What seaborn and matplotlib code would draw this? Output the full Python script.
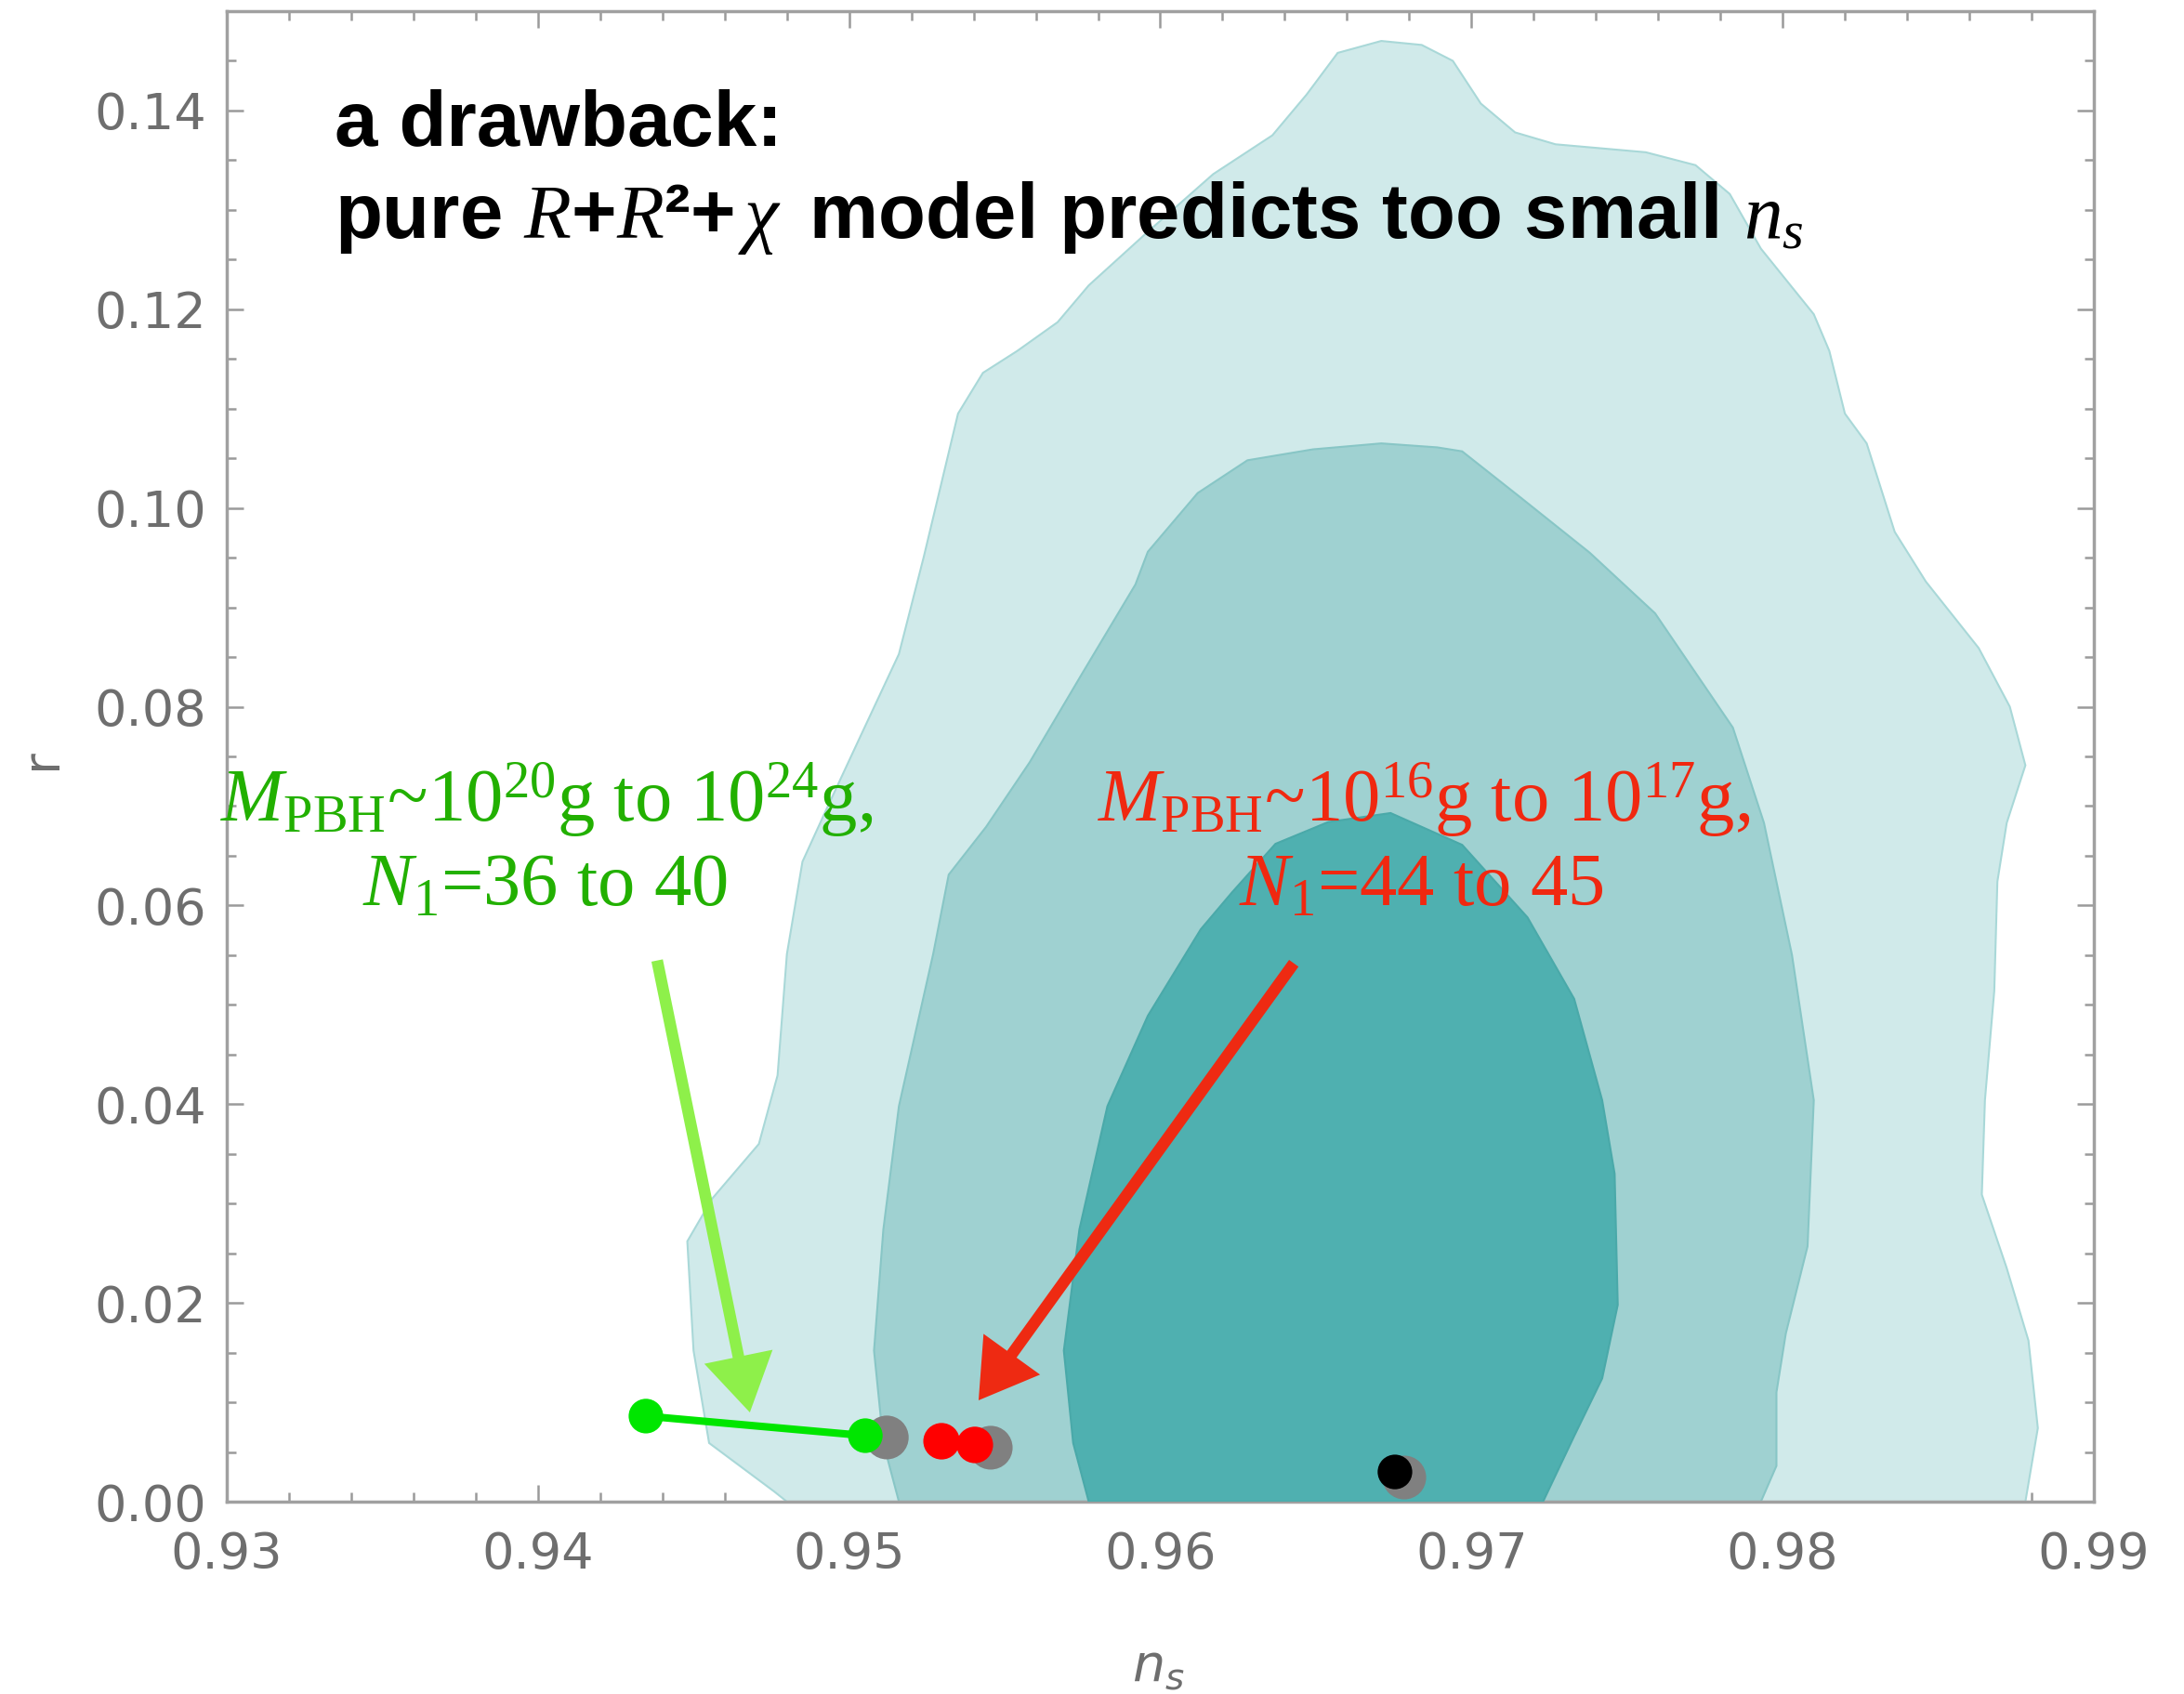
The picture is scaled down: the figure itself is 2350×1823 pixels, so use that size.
import numpy as np
import pandas as pd
import matplotlib
matplotlib.use("Agg")
import matplotlib.pyplot as plt
import seaborn as sns
from matplotlib.ticker import MultipleLocator, FormatStrFormatter

# ---------------- data ----------------
# outer contour boundary
outer_ns = [0.9480, 0.9476, 0.9455, 0.9450, 0.9448, 0.9456, 0.9471, 0.9477, 0.9480, 0.9485,
            0.9492, 0.9503, 0.9516, 0.9524, 0.9535, 0.9543, 0.9554, 0.9567, 0.9577, 0.9596,
            0.9617, 0.9636, 0.9647, 0.9657, 0.9671, 0.9684, 0.9694, 0.9703, 0.9714, 0.9727,
            0.9756, 0.9772, 0.9783, 0.9793, 0.9810, 0.9815, 0.9820, 0.9827, 0.9836, 0.9846,
            0.9863, 0.9873, 0.9878, 0.9872, 0.9869, 0.9868, 0.9865, 0.9864, 0.9872, 0.9879,
            0.9882, 0.9878]
outer_r = [0.0, 0.0010, 0.0059, 0.0152, 0.0262, 0.0305, 0.0360, 0.0429, 0.0551, 0.0644,
           0.0692, 0.0766, 0.0853, 0.0951, 0.1095, 0.1136, 0.1158, 0.1187, 0.1224, 0.1278,
           0.1336, 0.1375, 0.1416, 0.1458, 0.1470, 0.1466, 0.1450, 0.1407, 0.1378, 0.1366,
           0.1358, 0.1345, 0.1316, 0.1261, 0.1195, 0.1158, 0.1095, 0.1065, 0.0976, 0.0926,
           0.0859, 0.0800, 0.0741, 0.0683, 0.0624, 0.0514, 0.0404, 0.0309, 0.0235, 0.0162,
           0.0074, 0.0]

# middle contour boundary
mid_ns = [0.9516, 0.9511, 0.9508, 0.9511, 0.9516, 0.9527, 0.9532, 0.9544, 0.9558, 0.9575,
          0.9592, 0.9596, 0.9612, 0.9628, 0.9649, 0.9671, 0.9689, 0.9697, 0.9716, 0.9738,
          0.9759, 0.9784, 0.9794, 0.9803, 0.9810, 0.9808, 0.9801, 0.9798, 0.9798, 0.9793]
mid_r = [0.0, 0.0059, 0.0152, 0.0274, 0.0398, 0.0551, 0.0631, 0.0679, 0.0744, 0.0834,
         0.0923, 0.0956, 0.1015, 0.1048, 0.1059, 0.1065, 0.1061, 0.1057, 0.1010, 0.0955,
         0.0894, 0.0779, 0.0683, 0.0550, 0.0404, 0.0257, 0.0169, 0.0110, 0.0036, 0.0]

# inner contour boundary
inner_ns = [0.9577, 0.9572, 0.9569, 0.9574, 0.9583, 0.9596, 0.9613, 0.9623, 0.9637, 0.9654,
            0.9674, 0.9697, 0.9718, 0.9733, 0.9742, 0.9746, 0.9747, 0.9742, 0.9733, 0.9723]
inner_r = [0.0, 0.0059, 0.0152, 0.0274, 0.0398, 0.0489, 0.0576, 0.0613, 0.0662, 0.0684,
           0.0693, 0.0661, 0.0588, 0.0506, 0.0404, 0.0330, 0.0198, 0.0124, 0.0066, 0.0]

# model predictions
green_ns = [0.94347, 0.95052]
green_r = [0.00861, 0.00664]
gray_ns = [0.95121, 0.95455, 0.96784]
gray_r = [0.00646, 0.00543, 0.00243]
red_ns = [0.95297, 0.95404]
red_r = [0.00608, 0.00571]
black_ns = [0.96754]
black_r = [0.00299]

# arrows (tail -> head)
green_arrow = [(0.94383, 0.05446), (0.94681, 0.00898)]
red_arrow = [(0.96429, 0.05418), (0.95416, 0.01020)]

xticks = [0.93, 0.94, 0.95, 0.96, 0.97, 0.98, 0.99]
yticks = [0.00, 0.02, 0.04, 0.06, 0.08, 0.10, 0.12, 0.14]

title_1 = "a drawback:"
title_2 = r"pure $R$+$R$²+$\,\chi\,$ model predicts too small $n_s$"
green_l1 = r"$M_{\mathrm{PBH}}$~10$^{20}$g to 10$^{24}$g,"
green_l2 = r"$N_{\mathrm{1}}$=36 to 40"
red_l1 = r"$M_{\mathrm{PBH}}$~10$^{16}$g to 10$^{17}$g,"
red_l2 = r"$N_{\mathrm{1}}$=44 to 45"

# ---------------- style ----------------
sns.set_theme(style="ticks")
plt.rcParams['font.family'] = ['DejaVu Sans']
plt.rcParams['mathtext.fontset'] = 'custom'
plt.rcParams['mathtext.rm'] = 'Liberation Serif'
plt.rcParams['mathtext.it'] = 'Liberation Serif:italic'
plt.rcParams['mathtext.sf'] = 'DejaVu Sans:italic'

W, H = 2350, 1823
fig = plt.figure(figsize=(W / 100, H / 100), dpi=100)
fig.patch.set_facecolor('white')
ax = fig.add_axes([244 / W, 1 - 1616 / H, (2253 - 244) / W, (1616 - 12) / H])
ax.set_facecolor('white')

# contours
ax.fill(outer_ns, outer_r, facecolor='#d0eaea', edgecolor='#a9d8d8', lw=1.5, zorder=1)
ax.fill(mid_ns, mid_r, facecolor='#9fd1d1', edgecolor='#88c6c6', lw=1.5, zorder=2)
ax.fill(inner_ns, inner_r, facecolor='#4fb0b0', edgecolor='#4aa9a9', lw=1.5, zorder=3)

# arrows
for (tail, head, col) in [(green_arrow[0], green_arrow[1], '#8ef04a'),
                          (red_arrow[0], red_arrow[1], '#ee2a12')]:
    ax.annotate('', xy=head, xytext=tail,
                arrowprops=dict(arrowstyle='simple,head_width=2.7,head_length=2.2,tail_width=0.45',
                                mutation_scale=20, color=col, shrinkA=0, shrinkB=0, lw=0),
                zorder=4)

# points
sns.scatterplot(x=gray_ns, y=gray_r, s=1150, color='#808080', edgecolor='none', ax=ax, zorder=5)
sns.lineplot(x=green_ns, y=green_r, color='#00e600', lw=5.8, sort=False, ax=ax, zorder=6)
sns.scatterplot(x=green_ns, y=green_r, s=720, color='#00e600', edgecolor='none', ax=ax, zorder=7)
sns.scatterplot(x=red_ns, y=red_r, s=800, color='#ff0000', edgecolor='none', ax=ax, zorder=7)
sns.scatterplot(x=black_ns, y=black_r, s=720, color='#000000', edgecolor='none', ax=ax, zorder=7)

# axes
ax.set_xlim(0.93, 0.99)
ax.set_ylim(0.0, 0.15)
ax.set_xticks(xticks)
ax.set_yticks(yticks)
ax.xaxis.set_major_formatter(FormatStrFormatter('%.2f'))
ax.yaxis.set_major_formatter(FormatStrFormatter('%.2f'))
ax.xaxis.set_minor_locator(MultipleLocator(0.002))
ax.yaxis.set_minor_locator(MultipleLocator(0.005))
ax.tick_params(which='both', direction='in', top=True, right=True, color='#9a9a9a', width=1.8)
ax.tick_params(which='major', length=13, labelsize=39, labelcolor='#6e6e6e')
ax.tick_params(which='minor', length=7)
ax.tick_params(axis='x', which='major', pad=22)
ax.tick_params(axis='y', which='major', pad=16)
for sp in ax.spines.values():
    sp.set_color('#a0a0a0')
    sp.set_linewidth(2.5)
    sp.set_visible(True)

ax.set_xlabel(r"$\mathsf{n_s}$", fontsize=40, color='#6e6e6e')
ax.xaxis.set_label_coords(0.4988, -0.094)
ax.set_ylabel("")
fig.text(45 / W, 1 - 817 / H, "r", fontsize=40, color='#6e6e6e', rotation=90,
         ha='center', va='center')

# title text
sans_bold = dict(family=['Liberation Sans', 'DejaVu Sans'], fontweight='bold')
fig.text(360 / W, 1 - 157 / H, title_1, fontsize=60, color='black', va='baseline', ha='left',
         **sans_bold)
fig.text(360 / W, 1 - 256 / H, title_2, fontsize=60, color='black', va='baseline', ha='left',
         **sans_bold)

# annotations
serif = ['Liberation Serif', 'DejaVu Serif']
fig.text(588 / W, 1 - 885 / H, green_l1, fontsize=58, color='#22b000', family=serif,
         ha='center', va='baseline')
fig.text(586 / W, 1 - 975 / H, green_l2, fontsize=58, color='#22b000', family=serif,
         ha='center', va='baseline')
fig.text(1532 / W, 1 - 885 / H, red_l1, fontsize=58, color='#f02810', family=serif,
         ha='center', va='baseline')
fig.text(1529 / W, 1 - 975 / H, red_l2, fontsize=58, color='#f02810', family=serif,
         ha='center', va='baseline')

fig.savefig('out.png', dpi=100, facecolor='white')
